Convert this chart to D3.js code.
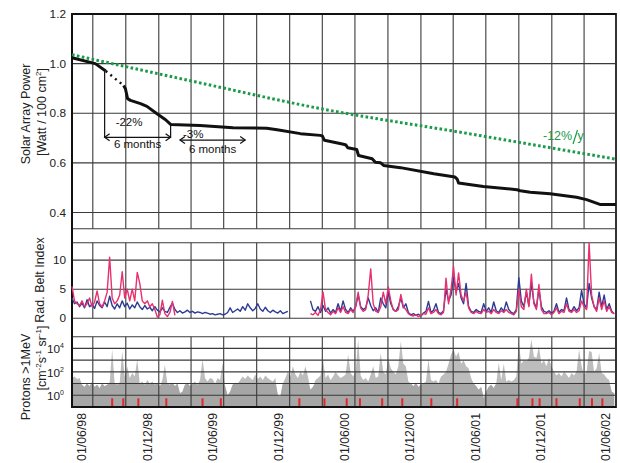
<!DOCTYPE html>
<html><head><meta charset="utf-8">
<script src="https://cdn.jsdelivr.net/npm/d3@7"></script>
<style>body{margin:0;background:#fff}svg{display:block;font-family:"Liberation Sans",Arial,sans-serif}</style>
</head><body><svg id="c" width="620" height="463"></svg>
<script>
// ---------------- DATA ----------------
const xTickLabels = ["01/06/98","01/12/98","01/06/99","01/12/99","01/06/00","01/12/00","01/06/01","01/12/01","01/06/02"];
const xTickDates  = ["1998-06-01","1998-12-01","1999-06-01","1999-12-01","2000-06-01","2000-12-01","2001-06-01","2001-12-01","2002-06-01"];
const powerTicks = [1.2, 1.0, 0.8, 0.6, 0.4];
const beltTicks = [10, 5, 0];
const protonTicks = [1e4, 1e2, 1e0];

// Solar array power (before the data gap, the gap, after)
const solarA = [["1998-05-04",1.024],["1998-07-08",1.0],["1998-08-06",0.970]];
const solarGap = [["1998-08-06",0.970],["1998-09-25",0.912]];
const solarB = [
 ["1998-09-25",0.912],["1998-09-30",0.899],["1998-10-06",0.859],["1998-10-14",0.852],["1998-11-11",0.839],
 ["1998-11-29",0.828],["1998-12-27",0.798],["1999-01-20",0.774],["1999-02-03",0.755],["1999-04-26",0.751],
 ["1999-07-27",0.742],["1999-10-29",0.740],["1999-11-27",0.734],["2000-01-31",0.718],["2000-03-26",0.711],
 ["2000-04-01",0.709],["2000-04-07",0.691],["2000-05-30",0.675],["2000-06-06",0.672],["2000-06-11",0.661],
 ["2000-07-06",0.654],["2000-07-11",0.630],["2000-08-18",0.617],["2000-08-27",0.603],["2000-09-10",0.601],
 ["2000-09-19",0.590],["2000-11-05",0.581],["2001-02-06",0.556],["2001-04-06",0.543],["2001-04-12",0.535],
 ["2001-04-16",0.519],["2001-06-24",0.505],["2001-09-26",0.492],["2001-10-05",0.488],["2001-11-02",0.482],
 ["2001-12-27",0.476],["2002-03-11",0.462],["2002-04-08",0.452],["2002-05-15",0.433],["2002-06-29",0.433]
];
// -12%/y trend line
const trend = [["1998-05-04",1.036],["1999-04-15",0.926],["2000-03-26",0.819],["2001-05-18",0.717],["2002-06-29",0.615]];

// weekly series start
const weekStart = "1998-05-04";
const beltBlue = [3.5,2.5,2.8,2.0,2.6,1.8,3.2,2.0,2.4,1.7,3.0,2.2,1.8,2.8,2.0,3.8,2.2,1.6,2.5,1.8,
 3.0,2.0,2.6,1.6,2.3,1.8,2.8,2.0,1.5,2.2,1.6,1.9,1.3,2.0,1.4,1.1,1.8,1.2,1.0,1.9,
 2.6,1.5,1.0,1.3,0.9,1.1,1.4,1.0,1.2,0.9,1.1,1.0,0.8,1.0,0.9,0.7,0.8,0.6,0.7,0.8,
 0.6,0.7,1.0,1.8,1.0,1.3,1.6,1.2,2.0,1.4,2.5,1.8,1.3,1.7,2.5,1.6,1.2,1.9,1.3,1.0,
 1.4,1.1,0.9,1.3,0.8,1.0,1.2,null,null,null,null,null,null,null,null,3.0,1.5,1.2,2.0,1.0,
 2.2,1.2,1.8,0.9,1.5,1.0,2.5,1.2,3.0,1.5,1.0,1.8,1.2,2.0,4.0,2.0,1.5,1.8,3.5,2.2,
 1.3,1.8,1.0,3.5,2.5,1.8,4.5,2.5,1.5,1.2,2.0,3.5,1.8,2.5,1.0,0.6,0.8,0.5,0.7,0.4,
 0.9,1.2,2.9,1.0,1.4,2.5,1.0,0.8,1.3,5.0,3.0,4.0,7.0,4.5,6.0,3.5,2.5,6.0,2.0,1.2,
 1.0,1.5,1.2,1.0,2.5,1.2,1.8,1.0,2.8,1.3,1.0,1.8,1.2,2.8,1.5,1.0,0.8,1.5,7.0,3.0,
 2.0,4.5,2.2,6.0,2.8,1.8,5.0,2.0,1.2,1.0,1.3,0.9,1.2,2.5,1.0,1.5,1.3,3.5,1.5,1.2,
 2.0,1.3,1.8,4.8,2.5,1.8,6.0,3.5,2.0,1.5,4.5,2.0,4.0,1.5,2.5,1.2,0.8];
const beltPink = [5.5,3.0,2.5,2.2,3.0,2.0,2.5,3.5,2.0,2.8,4.7,2.5,2.0,3.0,4.5,10.5,3.5,2.5,3.0,4.0,
 8.0,3.5,5.0,3.0,5.0,3.0,7.9,6.0,3.0,2.5,3.0,2.0,2.5,1.5,0.2,0.6,3.1,0.8,0.3,1.0,
 2.9,0.5,null,null,null,null,null,null,null,null,null,null,null,null,null,null,null,null,null,null,
 null,null,null,null,null,null,null,null,null,null,null,null,null,null,null,null,null,null,null,null,
 null,null,null,null,null,null,null,null,null,null,null,null,null,null,null,0.8,0.6,1.0,0.5,1.5,
 4.5,1.5,1.0,0.6,1.2,0.8,1.8,1.0,2.0,1.0,0.8,1.5,1.0,2.0,4.5,1.8,1.2,1.5,4.0,8.5,
 2.5,1.2,1.0,2.0,4.5,2.5,5.4,3.0,1.5,1.2,1.5,4.1,2.0,1.5,0.8,0.5,0.4,0.6,0.3,0.5,
 0.8,0.7,1.8,0.8,1.0,1.5,0.8,0.6,1.0,6.9,2.5,5.0,8.9,4.0,7.8,4.0,3.0,4.5,1.8,1.0,
 0.8,1.2,0.9,0.8,1.5,1.0,1.2,0.8,1.5,1.0,0.8,1.3,1.0,1.5,1.0,0.8,0.6,1.2,5.0,2.0,
 1.5,5.0,2.0,7.6,2.5,1.5,5.8,1.5,0.8,0.8,1.0,0.6,1.0,1.8,0.8,1.2,1.0,2.5,1.2,1.0,
 1.5,1.0,1.3,3.0,2.0,1.5,13.0,4.0,2.0,1.2,3.5,1.5,3.0,1.2,2.0,1.0,0.8];
const protons = [30,40,25,30,8,5,10,6,15,5,8,4,10,6,8,12,8000,10,8,12,
 6000,40,300,30,80,40,1200,10,15,8,20,10,15,8,12,6,20,400,10,8,
 12,6,10,1.5,2,8,12,6,10,15,8,20,1200,30,15,30,25,10,30,20,
 600,6,1,2,8,12,10,20,40,25,50,30,20,60,25,40,20,50,30,20,
 15,30,1,0.8,10,30,100,40,300,60,30,100,50,300,40,3,5,20,30,50,
 1200,30,60,20,40,100,50,30,40,60,3000,80,40,100,60000,50,20,30,15,60,
 300,30,40,4000,100,60,1500,200,100,60,300,40000,500,300,15,10,6,12,5,8,
 10,15,1200,20,15,20,10,40,60,100,500,3000,8000,2000,5000,500,1000,300,200,30,
 10,6,3,5,0.6,2,5,8,4,10,600,20,500,15,20,15,20,40,30000,500,
 1000,800,1500,60000,2000,1500,15000,500,1000,300,1500,300,100,50,80,40,100,60,30,80,
 50,100,8000,300,60,100,6000,5000,100,200,4000,80,60,30,20,2,1.5];
const protonEvents = ["1998-08-24","1998-09-24","1998-11-05","1999-01-22","1999-05-03","1999-06-23","2000-01-28",
 "2000-04-07","2000-06-08","2000-07-15","2000-09-15","2000-11-10","2001-01-30","2001-04-12","2001-09-27",
 "2001-11-08","2001-11-28","2002-01-14","2002-03-20","2002-04-23","2002-05-22"];

// ---------------- DRAW ----------------
const parse = d3.timeParse("%Y-%m-%d");
const svg = d3.select("#c");
const L = 72, R = 616;
const x = d3.scaleTime().domain([parse("1998-05-04"), parse("2002-06-29")]).range([L, R]);
const yP = d3.scaleLinear().domain([0.335, 1.2]).range([228.7, 14]);
const yB = d3.scaleLinear().domain([0, 13]).range([318.3, 242.7]);
const yR = d3.scaleLog().domain([0.1, 1e5]).range([407, 336.7]);
const t0 = parse(weekStart);
const wk = i => d3.timeDay.offset(t0, 7 * i);
const gridDates = d3.timeMonth.every(3).range(parse("1998-06-01"), parse("2002-06-02"));
const gridColor = "#3a3a3a";

// proton gray area (under grid): light tone for peaks, denser tone for the base
const pData = protons.map((v, i) => ({d: wk(i), v}));
svg.append("path").datum(pData)
  .attr("d", d3.area().x(d => x(d.d)).y0(yR(0.1)).y1(d => yR(d.v)))
  .attr("fill", "#bdbdbd");
svg.append("path").datum(pData)
  .attr("d", d3.area().x(d => x(d.d)).y0(yR(0.1)).y1(d => yR(Math.min(d.v, 12))))
  .attr("fill", "#a6a6a6");

// grids
function vgrid(y0, y1) {
  svg.append("g").selectAll("line").data(gridDates).join("line")
    .attr("x1", d => x(d)).attr("x2", d => x(d)).attr("y1", y0).attr("y2", y1)
    .attr("stroke", gridColor).attr("stroke-width", 1.1);
}
function hgrid(vals, sc) {
  svg.append("g").selectAll("line").data(vals).join("line")
    .attr("x1", L).attr("x2", R).attr("y1", d => sc(d)).attr("y2", d => sc(d))
    .attr("stroke", gridColor).attr("stroke-width", 1.1);
}
vgrid(yP(1.2), yP(0.335)); hgrid([1.0, 0.8, 0.6, 0.4, 0.335], yP);
vgrid(yB(13), yB(0)); hgrid([13, 10, 5, 0], yB);
vgrid(yR(1e5), yR(0.1)); hgrid([1e5, 1e4, 1e3, 1e2, 1e1, 1e0], yR);

// frame
svg.append("line").attr("x1", L).attr("x2", L).attr("y1", 13).attr("y2", 408).attr("stroke", "#111").attr("stroke-width", 2);
svg.append("line").attr("x1", R).attr("x2", R).attr("y1", 13).attr("y2", 408).attr("stroke", "#333").attr("stroke-width", 2);
svg.append("line").attr("x1", L).attr("x2", R).attr("y1", 14).attr("y2", 14).attr("stroke", "#111").attr("stroke-width", 2);
svg.append("line").attr("x1", L).attr("x2", R).attr("y1", 407).attr("y2", 407).attr("stroke", "#111").attr("stroke-width", 2);

// proton events
svg.append("g").selectAll("rect").data(protonEvents).join("rect")
  .attr("x", d => x(parse(d)) - 1).attr("width", 2)
  .attr("y", 398.3).attr("height", 7.7).attr("fill", "#e3262b");

// radiation belt lines
const bLine = d3.line().defined(d => d.v != null).x(d => x(d.d)).y(d => yB(d.v));
svg.append("path").datum(beltBlue.map((v, i) => ({d: wk(i), v})))
  .attr("d", bLine).attr("fill", "none").attr("stroke", "#2b3b94").attr("stroke-width", 1.4).attr("stroke-linejoin", "round");
svg.append("path").datum(beltPink.map((v, i) => ({d: wk(i), v})))
  .attr("d", bLine).attr("fill", "none").attr("stroke", "#e8306f").attr("stroke-width", 1.4).attr("stroke-linejoin", "round");

// solar power
const pl = d3.line().x(d => x(parse(d[0]))).y(d => yP(d[1]));
svg.append("path").datum(trend).attr("d", pl.curve(d3.curveMonotoneX))
  .attr("fill", "none").attr("stroke", "#1a9a4a").attr("stroke-width", 3).attr("stroke-dasharray", "2.6,2.4");
pl.curve(d3.curveLinear);
svg.append("path").datum(solarA).attr("d", pl).attr("fill", "none").attr("stroke", "#111").attr("stroke-width", 3).attr("stroke-linejoin", "round");
svg.append("path").datum(solarGap).attr("d", pl).attr("fill", "none").attr("stroke", "#111").attr("stroke-width", 2.5).attr("stroke-dasharray", "2,4");
svg.append("path").datum(solarB).attr("d", pl).attr("fill", "none").attr("stroke", "#111").attr("stroke-width", 3).attr("stroke-linejoin", "round");

// annotations
function arrow(xa, xb, y) {
  const g = svg.append("g").attr("stroke", "#111").attr("stroke-width", 1.2).attr("fill", "none");
  g.append("line").attr("x1", xa).attr("x2", xb).attr("y1", y).attr("y2", y);
  g.append("path").attr("d", `M${xa + 5},${y - 3.5}L${xa},${y}L${xa + 5},${y + 3.5}`);
  g.append("path").attr("d", `M${xb - 5},${y - 3.5}L${xb},${y}L${xb - 5},${y + 3.5}`);
}
const a1 = x(parse("1998-08-03")), a1b = x(parse("1999-02-03")), ay1 = yP(0.703);
svg.append("line").attr("x1", a1).attr("x2", a1).attr("y1", yP(0.968)).attr("y2", ay1).attr("stroke", "#111").attr("stroke-width", 1.2);
svg.append("line").attr("x1", a1b).attr("x2", a1b).attr("y1", yP(0.755)).attr("y2", ay1).attr("stroke", "#111").attr("stroke-width", 1.2);
arrow(a1, a1b, ay1);
const a2 = x(parse("1999-03-01")), a2b = x(parse("1999-08-30")), ay2 = yP(0.692);
arrow(a2, a2b, ay2);
const ann = svg.append("g").attr("font-size", 11.5).attr("fill", "#111");
ann.append("text").attr("x", a1 + 11).attr("y", ay1 - 11).text("-22%");
ann.append("text").attr("x", (a1 + a1b) / 2).attr("y", ay1 + 11).attr("text-anchor", "middle").text("6 months");
ann.append("text").attr("x", a2 + 3).attr("y", ay2 - 2.5).text("-3%");
ann.append("text").attr("x", (a2 + a2b) / 2).attr("y", ay2 + 13).attr("text-anchor", "middle").text("6 months");
const gt = svg.append("g").attr("fill", "#1a9a4a").attr("font-size", 12.5);
gt.append("text").attr("x", 543).attr("y", 139.5).text("-12%");
svg.append("line").attr("x1", 573).attr("y1", 144).attr("x2", 577.5).attr("y2", 130).attr("stroke", "#1a9a4a").attr("stroke-width", 1.2);
gt.append("text").attr("x", 577.5).attr("y", 139.5).text("y");

// y tick labels
const tk = svg.append("g").attr("font-size", 11.8).attr("fill", "#222").attr("text-anchor", "end");
tk.selectAll(".p").data(powerTicks).join("text").attr("x", 66).attr("y", d => yP(d)).attr("dy", "0.35em").text(d => d.toFixed(1));
tk.selectAll(".b").data(beltTicks).join("text").attr("x", 66).attr("y", d => yB(d)).attr("dy", "0.35em").text(d => d);
const pt = tk.selectAll(".r").data(protonTicks).join("text").attr("x", 64).attr("y", d => yR(d)).attr("dy", "0.4em");
pt.append("tspan").text("10");
pt.append("tspan").attr("font-size", 7).attr("dy", -5).text(d => Math.round(Math.log10(d)));

// y titles
const tt = svg.append("g").attr("font-size", 12.5).attr("fill", "#222").attr("text-anchor", "middle");
function vtext(cx, cy) { return tt.append("text").attr("transform", `translate(${cx},${cy}) rotate(-90)`); }
function sup(t, s) { t.append("tspan").attr("font-size", 8).attr("dy", -5).text(s); }
function base(t, s) { t.append("tspan").attr("dy", 5).text(s); }
vtext(30, 114).text("Solar Array Power");
const w = vtext(46, 112); w.append("tspan").text("[Watt / 100 cm"); sup(w, "2"); base(w, "]");
vtext(44, 280).text("Rad. Belt Index");
vtext(30, 377).text("Protons >1MeV");
const u = vtext(46, 358);
u.append("tspan").text("[cm"); sup(u, "-2"); base(u, "s"); sup(u, "-1"); base(u, " sr"); sup(u, "-1"); base(u, "]");

// x tick labels
svg.append("g").selectAll("text").data(xTickDates).join("text")
  .attr("transform", d => `translate(${x(parse(d))},413) rotate(-90)`)
  .attr("text-anchor", "end").attr("dy", "0.36em").attr("font-size", 12.3).attr("fill", "#222")
  .text((d, i) => xTickLabels[i]);
</script></body></html>
